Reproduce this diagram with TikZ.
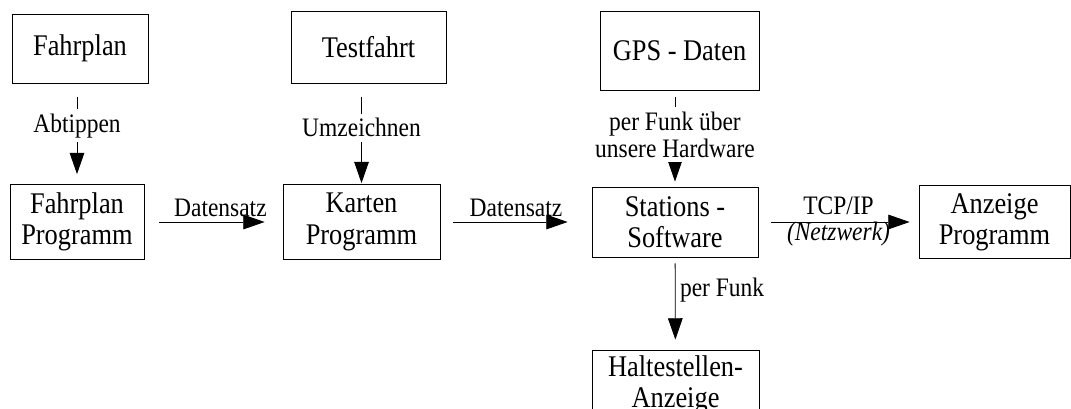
\documentclass[tikz,border=0pt]{standalone}
\usepackage{fontspec}
\setmainfont{Liberation Serif}[FakeStretch=0.88]
\usetikzlibrary{arrows.meta}
\tikzset{
  box/.style={draw, line width=0.6pt, align=center, inner sep=0pt, font=\fontsize{22.5}{23.5}\selectfont},
  lbl/.style={align=center, font=\fontsize{20}{20.5}\selectfont},
  pfeil/.style={-{Triangle[length=16pt,width=11pt]}, line width=0.6pt}
}
\begin{document}
\begin{tikzpicture}[x=0.75pt,y=-0.75pt]
            \clip (0,0) rectangle (1071,409);
            \node[box, minimum width=102pt, minimum height=51.75pt] (fahrplan) at (80,48.5) {Fahrplan};
            \node[box, minimum width=100.5pt, minimum height=56.25pt] (fprog) at (77,222) {Fahrplan\\Programm};
            \node[box, minimum width=116.25pt, minimum height=54pt] (testfahrt) at (368.5,47) {Testfahrt};
            \node[box, minimum width=117.75pt, minimum height=56.25pt] (karten) at (361.5,222) {Karten\\Programm};
            \node[box, minimum width=119.25pt, minimum height=59.25pt] (gps) at (679.5,50.5) {GPS - Daten};
            \node[box, minimum width=124.5pt, minimum height=52.5pt] (stations) at (675,222) {Stations -\\Software};
            \node[box, minimum width=113.25pt, minimum height=54.75pt] (anzeige) at (994.5,222) {Anzeige\\Programm};
            \node[box, minimum width=125.25pt, minimum height=52.5pt] (halte) at (675.5,385) {Haltestellen-\\Anzeige};

            \draw[pfeil, shorten <=10.5pt, shorten >=7.5pt] (fahrplan.south -| fprog) -- node[lbl, fill=white, pos=.42]{Abtippen} (fprog.north);
            \draw[pfeil, shorten <=10.5pt, shorten >=0.75pt] (testfahrt.south -| karten) -- node[lbl, fill=white, pos=.44]{Umzeichnen} (karten.north);
            \draw[pfeil, shorten <=5pt, shorten >=3.75pt] (gps.south -| stations) -- node[lbl, fill=white, pos=.46]{per Funk über\\unsere Hardware} (stations.north);
            \draw[pfeil, shorten <=4.5pt, shorten >=7.5pt] (stations) -- node[lbl, right, pos=.35]{per Funk} (halte);

            \draw[pfeil, shorten <=11.25pt, shorten >=13.5pt] (fprog) -- node[lbl, above, pos=.55]{Datensatz} (karten);
            \draw[pfeil, shorten <=9.75pt, shorten >=18pt] (karten) -- node[lbl, above]{Datensatz} (stations);
            \draw[pfeil, shorten <=9.75pt, shorten >=6.75pt] (stations) -- node[lbl, above, yshift=2pt]{TCP/IP} node[lbl, below, inner sep=0pt]{\itshape (Netzwerk)} (anzeige);
          \end{tikzpicture}
\end{document}
